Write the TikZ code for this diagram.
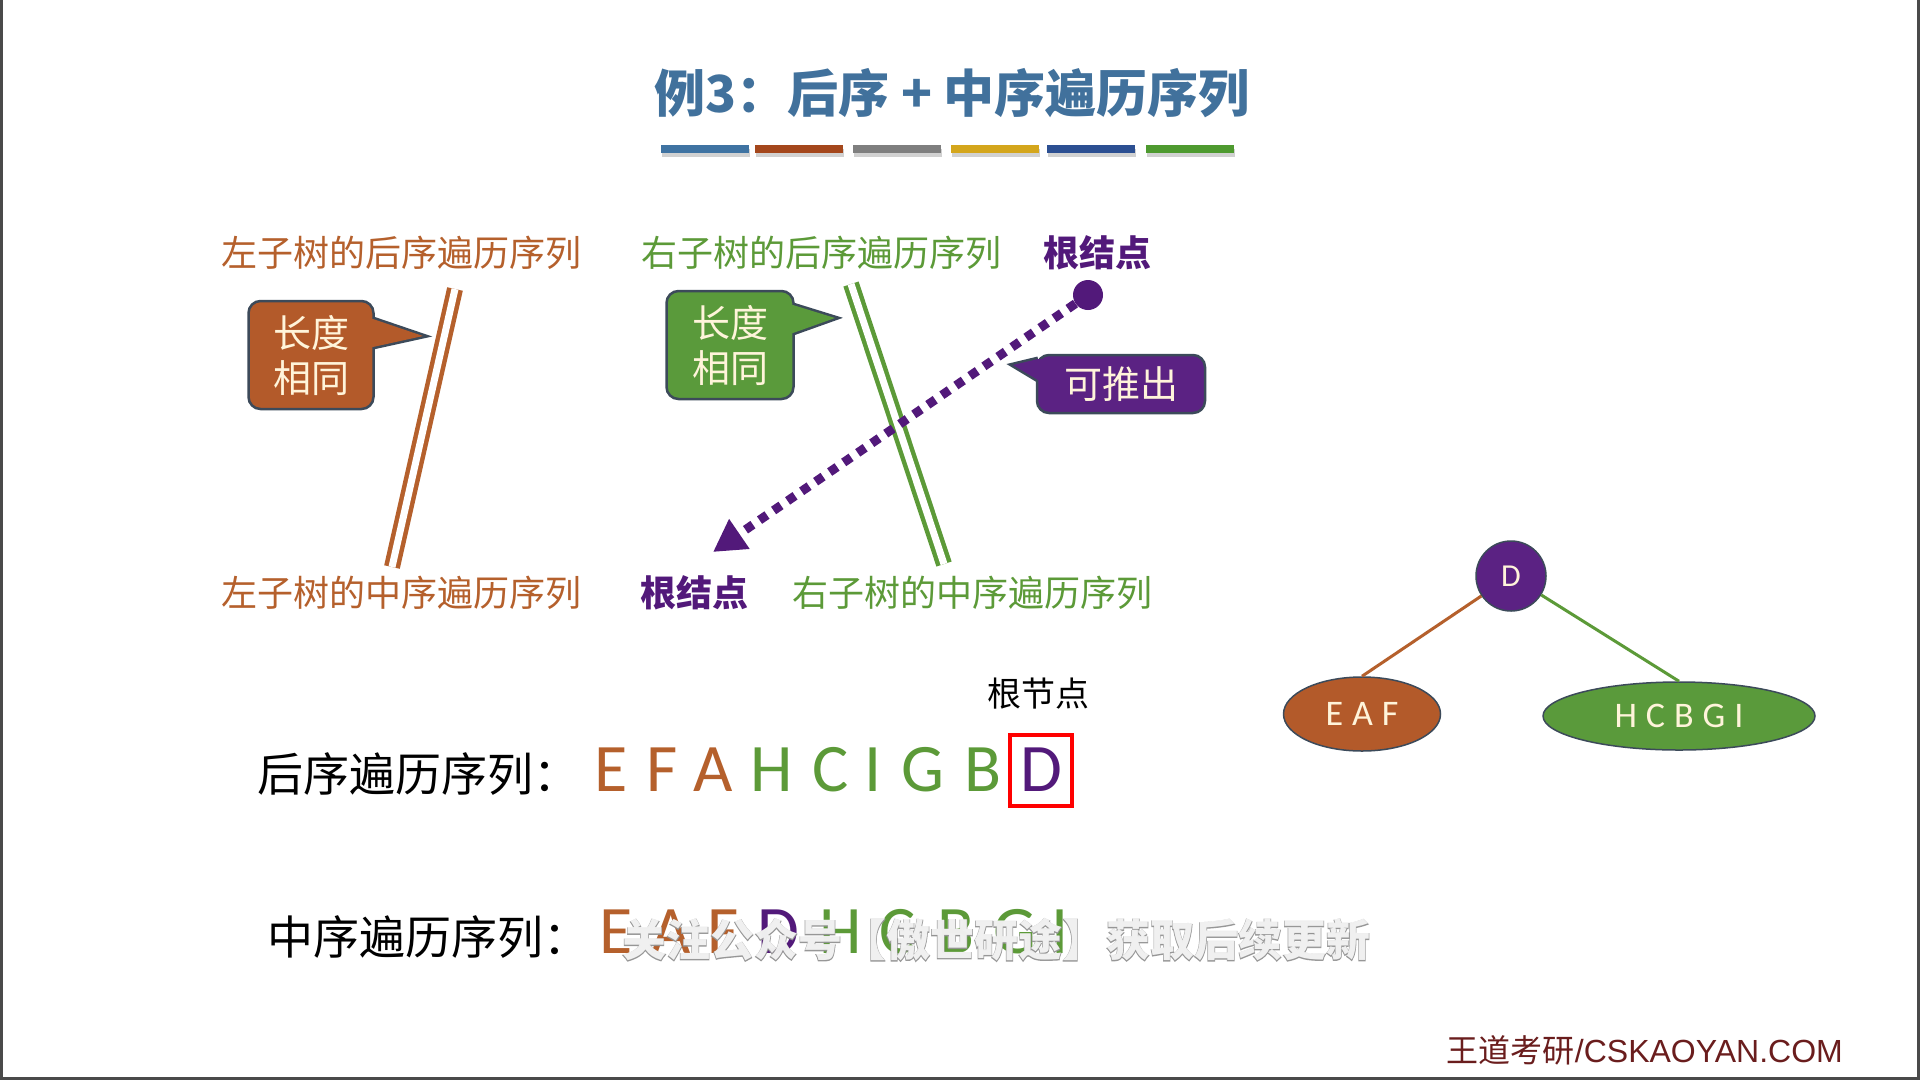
\documentclass[tikz,border=0pt]{standalone}
\usepackage{fontspec}
\setmainfont{Carlito}
\newfontfamily\cjk{Noto Sans CJK SC}
\newfontfamily\arialfont{Liberation Sans}
\usetikzlibrary{shapes.geometric,arrows.meta}

\definecolor{ttl}{HTML}{41719C}
\definecolor{brn}{HTML}{B5602C}
\definecolor{brnfill}{HTML}{B35A2A}
\definecolor{grn}{HTML}{5C9A38}
\definecolor{grnfill}{HTML}{5A9A3B}
\definecolor{prp}{HTML}{52197A}
\definecolor{prpfill}{HTML}{5B2283}
\definecolor{edgec}{HTML}{3C4A5A}
\definecolor{cream}{HTML}{FFF4DA}
\definecolor{barA}{HTML}{3F73A2}
\definecolor{barB}{HTML}{A4471C}
\definecolor{barC}{HTML}{7F7F7F}
\definecolor{barD}{HTML}{D4A61C}
\definecolor{barE}{HTML}{2C4F92}
\definecolor{barF}{HTML}{4E9A2F}
\definecolor{foot}{HTML}{6A1D1D}
\definecolor{frame}{HTML}{4A4A4A}

\tikzset{
  lbl/.style={font=\cjk\fontsize{36}{40}\selectfont, inner sep=0pt},
  rootlbl/.style={font=\cjk\bfseries\fontsize{36}{40}\selectfont, inner sep=0pt, text=prp},
  callbox/.style={rectangle, rounded corners=12pt, draw=edgec, line width=2.5pt,
    text=cream, align=center, font=\cjk\fontsize{38}{45}\selectfont, inner sep=0pt},
  tipline/.style={draw=edgec, line width=5pt, line join=miter},
  twin/.style={double=white, double distance=7pt, line width=4.5pt},
  seqlbl/.style={font=\cjk\fontsize{46}{50}\selectfont, anchor=west, inner sep=0pt},
  seqch/.style={font=\fontsize{68}{72}\selectfont, inner sep=0pt},
  treetext/.style={text=cream, font=\fontsize{36}{40}\selectfont},
  treeedge/.style={line width=3pt},
  wm/.style={font=\cjk\bfseries\fontsize{44}{50}\selectfont, inner sep=0pt}
}

\begin{document}
\begin{tikzpicture}[x=1pt,y=-1pt]
  % page
  \path[use as bounding box, fill=white] (0,0) rectangle (1920,1080);
  \fill[frame] (0,0) rectangle (3,1080);
  \fill[frame] (1917,0) rectangle (1920,1080);
  \fill[frame] (0,1077) rectangle (1920,1080);

  % title and colour bars
  \node[font=\cjk\bfseries\fontsize{51}{60}\selectfont, text=ttl] (title) at (952,93) {例3：后序 + 中序遍历序列};
  \foreach \c/\x in {barA/661,barB/755,barC/853,barD/951,barE/1047,barF/1146}{
    \fill[black, opacity=0.18] (\x+1,149) rectangle +(88,8);
    \fill[\c] (\x,145) rectangle +(88,8);
  }

  % sequence labels
  \node[lbl, text=brn] (lpost) at (401,253) {左子树的后序遍历序列};
  \node[lbl, text=grn] (rpost) at (821,253) {右子树的后序遍历序列};
  \node[rootlbl] (rootpost) at (1097,253) {根结点};
  \node[lbl, text=brn] (lin) at (401,593) {左子树的中序遍历序列};
  \node[rootlbl] (rootin) at (694,593) {根结点};
  \node[lbl, text=grn] (rin) at (972,593) {右子树的中序遍历序列};

  % equal-length marks
  \coordinate (bt) at (455,289);
  \coordinate (bb) at (392,567);
  \draw[twin, draw=brn] (bt) -- (bb);
  \coordinate (gt) at (851,284);
  \coordinate (gb) at (944,564);
  \draw[twin, draw=grn] (gt) -- (gb);

  % callout: left subtree
  \coordinate (clp) at (423,336);
  \path[tipline, fill=brnfill] (373,319) -- (clp) -- (373,347);
  \node[callbox, fill=brnfill, minimum width=125pt, minimum height=108pt] (cl) at (311,355) {长度\\相同};
  \fill[brnfill] (366,319) -- (373,319) -- (clp) -- (373,347) -- (366,347) -- cycle;

  % callout: right subtree
  \coordinate (crp) at (835,318);
  \path[tipline, fill=grnfill] (793,305) -- (crp) -- (793,333);
  \node[callbox, fill=grnfill, minimum width=127pt, minimum height=108pt] (cr) at (730,345) {长度\\相同};
  \fill[grnfill] (786,305) -- (793,305) -- (crp) -- (793,333) -- (786,333) -- cycle;

  % root derivation arrow
  \node[circle, fill=prp, minimum size=30pt, inner sep=0pt] (dot) at (1088,295) {};
  \coordinate (tip) at (713,552);
  \draw[prp, line width=9pt, dash pattern=on 9pt off 8pt,
        -{Triangle[length=32pt,width=34pt]}] (dot) -- (tip);

  % callout: derivation
  \coordinate (cdp) at (1013,365);
  \path[tipline, fill=prpfill] (1038,359) -- (cdp) -- (1038,380);
  \node[callbox, fill=prpfill, minimum width=168pt, minimum height=58pt] (cd) at (1121,384) {可推出};
  \fill[prpfill] (1045,359) -- (1038,359) -- (cdp) -- (1038,380) -- (1045,380) -- cycle;

  % tree
  \node[circle, fill=prpfill, draw=edgec, line width=1.5pt, minimum size=70pt, inner sep=0pt,
        text=cream, font=\fontsize{32}{36}\selectfont] (D) at (1511,576) {D};
  \node[ellipse, fill=brnfill, draw=edgec, line width=1.5pt, minimum width=157pt,
        minimum height=74pt, inner sep=0pt, treetext] (eaf) at (1362,714)
        {E\hspace{9pt}A\hspace{9pt}F};
  \node[ellipse, fill=grnfill, draw=edgec, line width=1.5pt, minimum width=272pt,
        minimum height=68pt, inner sep=0pt, treetext] (hcbgi) at (1679,716)
        {H\hspace{9pt}C\hspace{9pt}B\hspace{9pt}G\hspace{9pt}I};
  \draw[treeedge, brn] (D) -- (eaf.north);
  \draw[treeedge, grn] (D) -- (hcbgi.north);

  % postorder sequence
  \node[font=\cjk\fontsize{34}{40}\selectfont] (rootnote) at (1038,694) {根节点};
  \node[seqlbl] (postlbl) at (257,774) {后序遍历序列：};
  \foreach \ch/\col/\x [count=\i] in {E/brn/611,F/brn/662,A/brn/713,H/grn/772,C/grn/831,
      I/grn/873,G/grn/923,B/grn/983,D/prp/1041}
    \node[seqch, text=\col] (post\i) at (\x,770) {\ch};
  \node[draw=red, line width=4pt, minimum width=62pt, minimum height=71pt, inner sep=0pt]
       (rbox) at (post9) {};

  % inorder sequence
  \node[seqlbl] (inlbl) at (267,937) {中序遍历序列：};
  \foreach \ch/\col/\x [count=\i] in {E/brn/616,A/brn/671,F/brn/723,D/prp/778,H/grn/841,
      C/grn/898,B/grn/956,G/grn/1015,I/grn/1060}
    \node[seqch, text=\col] (in\i) at (\x,932) {\ch};

  % overlaid notice, outlined lettering
  \node[wm, text=gray!85, text opacity=0.9] (wmo) at (996,940)
       {\addfontfeature{FakeBold=2.5}关注公众号【傲世研途】获取后续更新};
  \node[wm, text=white, text opacity=0.85] (wmi) at (996,940)
       {关注公众号【傲世研途】获取后续更新};

  % footer
  \node[text=foot, inner sep=0pt, anchor=east] (footer) at (1843,1050)
       {\cjk\fontsize{32}{36}\selectfont 王道考研\arialfont /CSKAOYAN.COM};
\end{tikzpicture}
\end{document}
